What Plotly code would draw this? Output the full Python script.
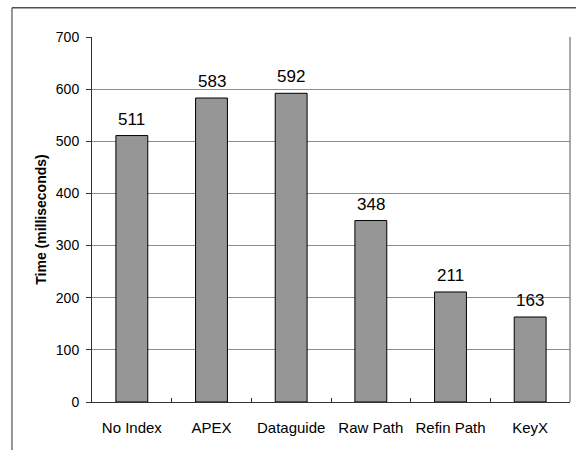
import plotly.graph_objects as go

categories = ["No Index", "APEX", "Dataguide", "Raw Path", "Refin Path", "KeyX"]
times_ms = [511, 583, 592, 348, 211, 163]
y_ticks = [0, 100, 200, 300, 400, 500, 600, 700]

FONT = "Liberation Sans, Arial, sans-serif"

fig = go.Figure()
fig.add_trace(go.Bar(
    x=categories, y=times_ms,
    marker=dict(color="#969696", line=dict(color="#000000", width=1)),
    width=0.4,
    hoverinfo="skip",
))

for c, v in zip(categories, times_ms):
    fig.add_annotation(x=c, y=v, text=str(v), showarrow=False,
                       yanchor="bottom", yshift=5,
                       font=dict(family=FONT, size=17, color="#000000"))

fig.update_layout(
    width=576, height=450,
    margin=dict(l=92, r=6, t=37, b=48),
    paper_bgcolor="white", plot_bgcolor="white",
    showlegend=False,
    font=dict(family=FONT, color="#000000"),
    xaxis=dict(
        type="category", range=[-0.5, 5.5],
        showline=True, linecolor="#333333", linewidth=1,
        ticks="inside", tickson="boundaries", ticklen=4, tickcolor="#333333",
        showgrid=False,
        tickfont=dict(family=FONT, size=15, color="#000000"),
        ticklabelstandoff=12,
    ),
    yaxis=dict(
        range=[0, 700], tickvals=y_ticks,
        showline=True, linecolor="#333333", linewidth=1,
        ticks="outside", ticklen=5, tickcolor="#333333",
        showgrid=True, gridcolor="#8c8c8c", gridwidth=1,
        zeroline=False,
        tickfont=dict(family=FONT, size=14, color="#000000"),
        ticklabelstandoff=4,
        title=dict(text="<b>Time (milliseconds)</b>", font=dict(family=FONT, size=14, color="#000000"),
                   standoff=5),
    ),
    shapes=[
        dict(type="line", xref="paper", yref="paper", x0=1, x1=1, y0=0, y1=1,
             line=dict(color="#8c8c8c", width=1.5)),
        dict(type="line", xref="paper", yref="paper", x0=-0.1674, x1=1.05, y0=1.08, y1=1.08,
             line=dict(color="#505050", width=1.5), layer="above"),
        dict(type="line", xref="paper", yref="paper", x0=-0.1674, x1=-0.1674, y0=1.08, y1=-0.2,
             line=dict(color="#505050", width=1.2), layer="above"),
    ],
)

fig.write_html("out.html", config={"displayModeBar": False},
               post_script="document.body.style.margin='0';")
